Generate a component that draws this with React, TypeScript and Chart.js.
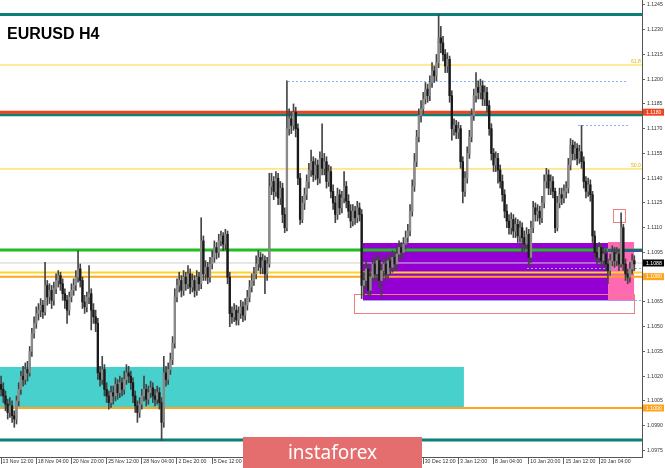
import React, { useEffect, useRef } from 'react';
import { Chart, registerables } from 'chart.js';

Chart.register(...registerables);

// ---- H4 candles (open of each candle = close of the previous one) ----
const firstOpen = 1.1015;
const closes = [
  1.1012, 1.1008, 1.1003, 1.0998, 1.1002, 1.0996, 1.0994, 1.1005, 1.1012, 1.1020,
  1.1018, 1.1024, 1.1022, 1.1035, 1.1046, 1.1052, 1.1058, 1.1060, 1.1063, 1.1059,
  1.1075, 1.1068, 1.1072, 1.1066, 1.1073, 1.1078, 1.1081, 1.1076, 1.1070, 1.1066,
  1.1060, 1.1068, 1.1072, 1.1075, 1.1080, 1.1085, 1.1078, 1.1065, 1.1062, 1.1068,
  1.1070, 1.1060, 1.1056, 1.1052, 1.1022, 1.1018, 1.1024, 1.1012, 1.1008, 1.1004,
  1.1010, 1.1008, 1.1015, 1.1010, 1.1016, 1.1012, 1.1018, 1.1022, 1.1020, 1.1016,
  1.1008, 1.1002, 1.0998, 1.1003, 1.1008, 1.1012, 1.1006, 1.1010, 1.1013, 1.1008,
  1.1006, 1.1010, 1.1004, 1.0992, 1.1022, 1.1018, 1.1024, 1.1030, 1.1040, 1.1068,
  1.1075, 1.1078, 1.1072, 1.1080, 1.1076, 1.1082, 1.1074, 1.1078, 1.1072, 1.1080,
  1.1076, 1.1102, 1.1082, 1.1086, 1.1080, 1.1088, 1.1092, 1.1098, 1.1095, 1.1102,
  1.1105, 1.1100, 1.1106, 1.1080, 1.1058, 1.1056, 1.1060, 1.1054, 1.1058, 1.1062,
  1.1057, 1.1063, 1.1068, 1.1074, 1.1078, 1.1082, 1.1088, 1.1092, 1.1086, 1.1090,
  1.1082, 1.1088, 1.1135, 1.1138, 1.1132, 1.1140, 1.1128, 1.1134, 1.1118, 1.1110,
  1.1170, 1.1176, 1.1172, 1.1180, 1.1170, 1.1140, 1.1115, 1.1125, 1.1130, 1.1138,
  1.1145, 1.1150, 1.1142, 1.1148, 1.1140, 1.1152, 1.1146, 1.1150, 1.1138, 1.1144,
  1.1132, 1.1125, 1.1118, 1.1130, 1.1122, 1.1128, 1.1135, 1.1126, 1.1120, 1.1114,
  1.1120, 1.1116, 1.1122, 1.1118, 1.1075, 1.1078, 1.1085, 1.1072, 1.1080, 1.1088,
  1.1082, 1.1090, 1.1078, 1.1084, 1.1088, 1.1082, 1.1090, 1.1086, 1.1092, 1.1088,
  1.1094, 1.1098, 1.1095, 1.1100, 1.1104, 1.1108, 1.1120, 1.1135, 1.1150, 1.1165,
  1.1178, 1.1182, 1.1188, 1.1194, 1.1190, 1.1198, 1.1205, 1.1202, 1.1210, 1.1225,
  1.1222, 1.1215, 1.1208, 1.1212, 1.1190, 1.1170, 1.1172, 1.1168, 1.1170, 1.1150,
  1.1132, 1.1140, 1.1155, 1.1165, 1.1178, 1.1190, 1.1195, 1.1192, 1.1196, 1.1188,
  1.1192, 1.1184, 1.1170, 1.1155, 1.1148, 1.1152, 1.1145, 1.1138, 1.1130, 1.1120,
  1.1114, 1.1110, 1.1115, 1.1108, 1.1112, 1.1105, 1.1110, 1.1104, 1.1100, 1.1106,
  1.1092, 1.1110, 1.1122, 1.1118, 1.1120, 1.1116, 1.1125, 1.1138, 1.1142, 1.1134,
  1.1138, 1.1132, 1.1110, 1.1125, 1.1130, 1.1128, 1.1132, 1.1134, 1.1148, 1.1160,
  1.1155, 1.1158, 1.1152, 1.1156, 1.1150, 1.1138, 1.1132, 1.1136, 1.1130, 1.1105,
  1.1095, 1.1092, 1.1098, 1.1090, 1.1094, 1.1088, 1.1084, 1.1090, 1.1095, 1.1090,
  1.1094, 1.1088, 1.1110, 1.1088, 1.1082, 1.1080, 1.1085, 1.1090, 1.1088,
];
const highs = [
  1.1020, 1.1016, 1.1011, 1.1006, 1.1007, 1.1005, 1.0999, 1.1008, 1.1016, 1.1023,
  1.1026, 1.1028, 1.1029, 1.1038, 1.1049, 1.1056, 1.1062, 1.1064, 1.1067, 1.1066,
  1.1089, 1.1078, 1.1076, 1.1075, 1.1077, 1.1082, 1.1084, 1.1083, 1.1079, 1.1073,
  1.1069, 1.1071, 1.1076, 1.1079, 1.1084, 1.1096, 1.1088, 1.1080, 1.1069, 1.1071,
  1.1087, 1.1073, 1.1064, 1.1060, 1.1055, 1.1026, 1.1032, 1.1027, 1.1016, 1.1011,
  1.1014, 1.1014, 1.1019, 1.1018, 1.1020, 1.1019, 1.1023, 1.1027, 1.1026, 1.1023,
  1.1019, 1.1011, 1.1005, 1.1007, 1.1012, 1.1020, 1.1015, 1.1014, 1.1017, 1.1016,
  1.1012, 1.1014, 1.1013, 1.1007, 1.1032, 1.1026, 1.1028, 1.1034, 1.1044, 1.1073,
  1.1079, 1.1083, 1.1081, 1.1084, 1.1083, 1.1087, 1.1085, 1.1082, 1.1081, 1.1084,
  1.1083, 1.1116, 1.1105, 1.1090, 1.1089, 1.1092, 1.1096, 1.1102, 1.1101, 1.1106,
  1.1108, 1.1107, 1.1109, 1.1108, 1.1083, 1.1062, 1.1064, 1.1063, 1.1062, 1.1066,
  1.1065, 1.1067, 1.1072, 1.1078, 1.1082, 1.1086, 1.1093, 1.1096, 1.1095, 1.1094,
  1.1093, 1.1092, 1.1143, 1.1143, 1.1141, 1.1144, 1.1143, 1.1138, 1.1137, 1.1122,
  1.1199, 1.1182, 1.1180, 1.1185, 1.1183, 1.1173, 1.1143, 1.1129, 1.1134, 1.1142,
  1.1149, 1.1157, 1.1153, 1.1152, 1.1151, 1.1156, 1.1173, 1.1155, 1.1153, 1.1148,
  1.1147, 1.1136, 1.1129, 1.1134, 1.1133, 1.1132, 1.1144, 1.1138, 1.1130, 1.1124,
  1.1124, 1.1123, 1.1126, 1.1125, 1.1121, 1.1083, 1.1090, 1.1088, 1.1084, 1.1092,
  1.1091, 1.1094, 1.1093, 1.1088, 1.1092, 1.1091, 1.1094, 1.1093, 1.1096, 1.1095,
  1.1098, 1.1102, 1.1101, 1.1104, 1.1108, 1.1112, 1.1124, 1.1139, 1.1155, 1.1169,
  1.1182, 1.1187, 1.1192, 1.1198, 1.1197, 1.1202, 1.1210, 1.1208, 1.1215, 1.1239,
  1.1232, 1.1226, 1.1218, 1.1216, 1.1214, 1.1193, 1.1176, 1.1175, 1.1174, 1.1172,
  1.1153, 1.1144, 1.1159, 1.1169, 1.1182, 1.1194, 1.1204, 1.1199, 1.1200, 1.1199,
  1.1196, 1.1195, 1.1187, 1.1173, 1.1158, 1.1156, 1.1155, 1.1148, 1.1142, 1.1133,
  1.1124, 1.1118, 1.1119, 1.1118, 1.1116, 1.1115, 1.1114, 1.1113, 1.1108, 1.1110,
  1.1109, 1.1114, 1.1126, 1.1125, 1.1124, 1.1123, 1.1129, 1.1142, 1.1146, 1.1145,
  1.1142, 1.1141, 1.1134, 1.1129, 1.1134, 1.1134, 1.1136, 1.1138, 1.1152, 1.1164,
  1.1163, 1.1162, 1.1161, 1.1160, 1.1172, 1.1153, 1.1141, 1.1140, 1.1139, 1.1132,
  1.1108, 1.1099, 1.1101, 1.1100, 1.1098, 1.1097, 1.1091, 1.1094, 1.1099, 1.1098,
  1.1098, 1.1097, 1.1119, 1.1112, 1.1091, 1.1085, 1.1089, 1.1094, 1.1093,
];
const lows = [
  1.1008, 1.1004, 1.0999, 1.0994, 1.0995, 1.0992, 1.0989, 1.0991, 1.1002, 1.1009,
  1.1014, 1.1015, 1.1017, 1.1020, 1.1032, 1.1043, 1.1049, 1.1054, 1.1056, 1.1055,
  1.1057, 1.1063, 1.1064, 1.1061, 1.1063, 1.1070, 1.1074, 1.1072, 1.1066, 1.1061,
  1.1052, 1.1057, 1.1065, 1.1069, 1.1072, 1.1077, 1.1074, 1.1061, 1.1058, 1.1059,
  1.1064, 1.1048, 1.1052, 1.1047, 1.1018, 1.1014, 1.1015, 1.1008, 1.1004, 1.1000,
  1.1001, 1.1003, 1.1005, 1.1006, 1.1007, 1.1008, 1.1009, 1.1015, 1.1016, 1.1012,
  1.1004, 1.0998, 1.0992, 1.0995, 1.1000, 1.1005, 1.1002, 1.1003, 1.1007, 1.1004,
  1.1002, 1.1003, 1.1000, 1.0981, 1.0989, 1.1014, 1.1015, 1.1021, 1.1027, 1.1037,
  1.1065, 1.1071, 1.1068, 1.1069, 1.1072, 1.1073, 1.1070, 1.1071, 1.1068, 1.1069,
  1.1072, 1.1073, 1.1078, 1.1078, 1.1076, 1.1077, 1.1085, 1.1089, 1.1091, 1.1092,
  1.1099, 1.1096, 1.1097, 1.1076, 1.1050, 1.1052, 1.1053, 1.1051, 1.1051, 1.1055,
  1.1053, 1.1054, 1.1060, 1.1065, 1.1071, 1.1075, 1.1079, 1.1084, 1.1082, 1.1082,
  1.1070, 1.1078, 1.1086, 1.1130, 1.1127, 1.1129, 1.1124, 1.1124, 1.1113, 1.1107,
  1.1108, 1.1166, 1.1167, 1.1169, 1.1165, 1.1136, 1.1112, 1.1113, 1.1121, 1.1127,
  1.1134, 1.1141, 1.1138, 1.1139, 1.1136, 1.1137, 1.1142, 1.1142, 1.1134, 1.1135,
  1.1128, 1.1121, 1.1113, 1.1115, 1.1118, 1.1119, 1.1125, 1.1122, 1.1116, 1.1110,
  1.1111, 1.1112, 1.1113, 1.1114, 1.1067, 1.1069, 1.1074, 1.1068, 1.1069, 1.1077,
  1.1078, 1.1079, 1.1074, 1.1068, 1.1080, 1.1078, 1.1079, 1.1082, 1.1083, 1.1084,
  1.1085, 1.1091, 1.1091, 1.1092, 1.1097, 1.1101, 1.1105, 1.1117, 1.1132, 1.1147,
  1.1162, 1.1174, 1.1179, 1.1185, 1.1186, 1.1187, 1.1195, 1.1198, 1.1199, 1.1207,
  1.1216, 1.1211, 1.1204, 1.1204, 1.1186, 1.1163, 1.1166, 1.1164, 1.1164, 1.1146,
  1.1125, 1.1129, 1.1137, 1.1152, 1.1162, 1.1175, 1.1186, 1.1188, 1.1188, 1.1184,
  1.1184, 1.1180, 1.1166, 1.1151, 1.1144, 1.1144, 1.1137, 1.1134, 1.1126, 1.1116,
  1.1110, 1.1106, 1.1106, 1.1104, 1.1104, 1.1101, 1.1101, 1.1095, 1.1096, 1.1097,
  1.1086, 1.1089, 1.1107, 1.1114, 1.1114, 1.1112, 1.1113, 1.1122, 1.1134, 1.1130,
  1.1130, 1.1128, 1.1107, 1.1108, 1.1122, 1.1124, 1.1125, 1.1128, 1.1131, 1.1145,
  1.1151, 1.1151, 1.1148, 1.1149, 1.1146, 1.1134, 1.1128, 1.1129, 1.1126, 1.1101,
  1.1091, 1.1088, 1.1089, 1.1086, 1.1087, 1.1084, 1.1076, 1.1081, 1.1087, 1.1086,
  1.1087, 1.1084, 1.1086, 1.1084, 1.1078, 1.1076, 1.1077, 1.1082, 1.1084,
];

// ---- time axis ----
const slotCount = 292;
const timeTickIndex = [0, 16, 32, 48, 64, 80, 96, 112, 128, 144, 160, 176, 192, 208, 224, 240, 256, 272];
const timeTickText = [
  '13 Nov 12:00', '18 Nov 04:00', '20 Nov 20:00', '25 Nov 12:00', '28 Nov 04:00', '2 Dec 20:00',
  '5 Dec 12:00', '10 Dec 04:00', '12 Dec 20:00', '17 Dec 12:00', '20 Dec 04:00', '24 Dec 20:00',
  '30 Dec 12:00', '3 Jan 12:00', '8 Jan 04:00', '10 Jan 20:00', '15 Jan 12:00', '20 Jan 04:00',
];

// ---- price axis ----
const yMin = 1.0971;
const yMax = 1.1248;
const yTickValues = [
  1.0975, 1.0990, 1.1005, 1.1020, 1.1035, 1.1050, 1.1065, 1.1080, 1.1095, 1.1110,
  1.1125, 1.1140, 1.1155, 1.1170, 1.1185, 1.1200, 1.1215, 1.1230, 1.1245,
];

// ---- full-width horizontal levels ----
const levelPrices = [1.12392, 1.12086, 1.11785, 1.11799, 1.11456, 1.10965, 1.10886, 1.10828, 1.10803, 1.10007, 1.09813];
// ---- partial levels (candle index range) ----
const segPrices = [1.11992, 1.11722, 1.10856, 1.10659, 1.10965];
const segFrom = [130.5, 262.4, 239.2, 164.6, 276.05];
const segTo = [285.1, 285.1, 291.5, 291.5, 291.5];
// ---- filled zones ----
const zoneFrom = [-0.5, 164.6, 276.05];
const zoneTo = [210.5, 276.05, 287.9];
const zoneTop = [1.10256, 1.11007, 1.11013];
const zoneBottom = [1.10007, 1.10659, 1.10656];
// ---- outlined boxes ----
const boxFrom = [160.5, 278.3];
const boxTo = [287.9, 283.8];
const boxTop = [1.10698, 1.11213];
const boxBottom = [1.10583, 1.11134];
// ---- fibonacci labels ----
const fibPrices = [1.12086, 1.11456];
const fibText = ['61.8', '50.0'];
// ---- price tags on the axis ----
const tagPrices = [1.1180, 1.10886, 1.10803, 1.10007];
const tagText = ['1.1180', '1.1088', '1.1080', '1.1000'];

// ---- styles ----
const TEAL = '#0b7f78';
const GOLD = '#ffd42a';
const ORANGE = '#ffa41c';
const DOT = '#7eb2ff';
const levelStyle = [
  { color: TEAL, width: 3 }, { color: GOLD, width: 1 }, { color: TEAL, width: 3 }, { color: '#ee4420', width: 3 },
  { color: GOLD, width: 1 }, { color: '#22bb22', width: 3 }, { color: '#cfcfcf', width: 1 }, { color: GOLD, width: 2 },
  { color: ORANGE, width: 2 }, { color: ORANGE, width: 2 }, { color: TEAL, width: 3 },
];
const segStyle = [
  { color: DOT, width: 1, dash: true }, { color: DOT, width: 1, dash: true },
  { color: DOT, width: 1, dash: true }, { color: DOT, width: 1, dash: true },
  { color: '#2c5d8e', width: 3, dash: false },
];
const zoneColors = ['#48d1cc', '#9400d3', '#ff69b4'];
const tagColors = ['#ee4420', '#000000', ORANGE, ORANGE];
const FONT = '"Liberation Sans", Arial, sans-serif';

const slotLabels: string[] = Array.from({ length: slotCount }, (_, i) => {
  const k = timeTickIndex.indexOf(i);
  return k >= 0 ? timeTickText[k] : '';
});

const overlayPlugin = {
  id: 'overlay',
  beforeDatasetsDraw(chart: any) {
    const { ctx, chartArea: a, scales } = chart;
    const X = (i: number) => scales.x.getPixelForValue(i);
    const Y = (p: number) => scales.y.getPixelForValue(p);
    ctx.save();
    ctx.beginPath();
    ctx.rect(a.left, a.top, a.right - a.left, a.bottom - a.top);
    ctx.clip();
    zoneFrom.forEach((f, k) => {
      const x0 = X(f), x1 = X(zoneTo[k]);
      const y0 = Y(zoneTop[k]), y1 = Y(zoneBottom[k]);
      ctx.fillStyle = zoneColors[k];
      ctx.fillRect(x0, y0, x1 - x0, y1 - y0);
    });
    levelPrices.forEach((p, k) => {
      const y = Y(p);
      ctx.strokeStyle = levelStyle[k].color;
      ctx.lineWidth = levelStyle[k].width;
      ctx.setLineDash([]);
      ctx.beginPath();
      ctx.moveTo(a.left, y);
      ctx.lineTo(a.right, y);
      ctx.stroke();
    });
    segPrices.forEach((p, k) => {
      const y = Math.round(Y(p)) + (segStyle[k].width % 2 ? 0.5 : 0);
      ctx.strokeStyle = segStyle[k].color;
      ctx.lineWidth = segStyle[k].width;
      ctx.setLineDash(segStyle[k].dash ? [2, 2] : []);
      ctx.beginPath();
      ctx.moveTo(X(segFrom[k]), y);
      ctx.lineTo(X(segTo[k]), y);
      ctx.stroke();
    });
    ctx.setLineDash([]);
    boxFrom.forEach((f, k) => {
      const x0 = Math.round(X(f)) + 0.5, x1 = Math.round(X(boxTo[k])) + 0.5;
      const y0 = Math.round(Y(boxTop[k])) + 0.5, y1 = Math.round(Y(boxBottom[k])) + 0.5;
      ctx.strokeStyle = '#f08080';
      ctx.lineWidth = 1;
      ctx.strokeRect(x0, y0, x1 - x0, y1 - y0);
    });
    ctx.restore();
  },
  afterDraw(chart: any) {
    const { ctx, chartArea: a, scales } = chart;
    const Y = (p: number) => scales.y.getPixelForValue(p);
    ctx.save();
    // fibo labels
    ctx.font = `5.2px ${FONT}`;
    ctx.fillStyle = '#e0b400';
    ctx.textAlign = 'right';
    ctx.textBaseline = 'bottom';
    fibPrices.forEach((p, k) => ctx.fillText(fibText[k], a.right - 1, Y(p) - 1));
    // price tags
    ctx.textAlign = 'left';
    ctx.textBaseline = 'middle';
    tagPrices.forEach((p, k) => {
      const y = Y(p);
      ctx.fillStyle = tagColors[k];
      ctx.fillRect(a.right + 1, y - 3.5, 21, 7);
      ctx.fillStyle = '#ffffff';
      ctx.fillText(tagText[k], a.right + 4, y + 0.3);
    });
    // title
    ctx.fillStyle = '#000';
    ctx.font = `bold 16px ${FONT}`;
    ctx.textBaseline = 'alphabetic';
    ctx.fillText('EURUSD H4', 7, 38.5);
    // watermark
    ctx.fillStyle = '#e46e6e';
    ctx.fillRect(243, 437, 179, 31);
    ctx.fillStyle = '#ffffff';
    ctx.font = `19px "Noto Sans", "Open Sans", sans-serif`;
    ctx.textAlign = 'center';
    ctx.fillText('instaforex', 332.5, 459);
    ctx.restore();
  },
};

export default function App() {
  const ref = useRef<HTMLCanvasElement>(null);
  useEffect(() => {
    document.body.style.margin = '0';
    const canvas = ref.current as HTMLCanvasElement;
    const opens = closes.map((c, i) => (i === 0 ? firstOpen : closes[i - 1]));
    const chart = new Chart(canvas, {
      type: 'bar',
      data: {
        labels: slotLabels,
        datasets: [
          {
            label: 'body',
            data: closes.map((c, i) => [opens[i], c]) as any,
            backgroundColor: closes.map((c, i) => (c >= opens[i] ? '#8a8a8a' : '#1a1a1a')),
            barThickness: 1.7,
            minBarLength: 1,
            borderWidth: 0,
            grouped: false,
            order: 0,
          } as any,
          {
            label: 'wick',
            data: highs.map((h, i) => [lows[i], h]) as any,
            backgroundColor: '#444444',
            barThickness: 1,
            borderWidth: 0,
            grouped: false,
            order: 1,
          } as any,
        ],
      },
      options: {
        animation: false,
        responsive: false,
        layout: { padding: 0 },
        plugins: { legend: { display: false }, tooltip: { enabled: false }, title: { display: false } },
        scales: {
          x: {
            type: 'category',
            offset: true,
            grid: { display: true, drawOnChartArea: false, drawTicks: true, tickLength: 7, color: '#666', offset: false },
            border: { display: true, color: '#555' },
            ticks: {
              autoSkip: false,
              maxRotation: 0,
              minRotation: 0,
              align: 'start',
              labelOffset: 1.5,
              padding: -6,
              font: { size: 5.2, family: FONT },
              color: '#333',
              callback: (v: any) => slotLabels[v as number] || null,
            },
            afterFit: (s: any) => { s.height = 11; s.paddingLeft = 0; s.paddingRight = 0; },
          },
          y: {
            position: 'right',
            min: yMin,
            max: yMax,
            grid: { display: true, drawOnChartArea: false, drawTicks: true, tickLength: 3, color: '#666' },
            border: { display: true, color: '#555' },
            ticks: {
              padding: 2,
              font: { size: 5.2, family: FONT },
              color: '#333',
              callback: (v: any) => Number(v).toFixed(4),
            },
            afterBuildTicks: (s: any) => { s.ticks = yTickValues.map((v) => ({ value: v })); },
            afterFit: (s: any) => { s.width = 23; s.paddingTop = 0; s.paddingBottom = 0; },
          },
        },
      } as any,
      plugins: [overlayPlugin],
    });
    return () => chart.destroy();
  }, []);
  return <canvas ref={ref} width={665} height={468} style={{ display: 'block' }} />;
}
